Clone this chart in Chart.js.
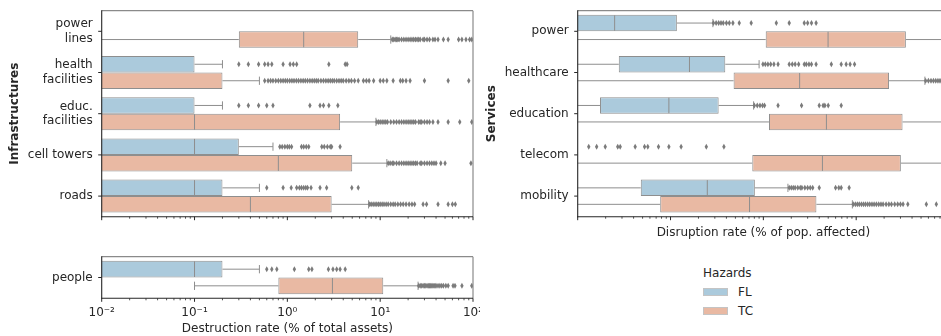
<!DOCTYPE html>
<html>
<head>
<meta charset="utf-8">
<script src="https://cdn.jsdelivr.net/npm/chart.js@4.4.1/dist/chart.umd.min.js"></script>
<style>
  html, body { margin: 0; padding: 0; background: #fff; }
  body { width: 941px; height: 336px; overflow: hidden; position: relative; font-family: "DejaVu Sans", sans-serif; color: #262626; }
  .panel { position: absolute; }
  .lg { position: absolute; font-size: 12px; line-height: 14px; white-space: nowrap; }
  .sw { position: absolute; width: 25px; height: 8px; box-sizing: border-box; border: 1px solid #c4c4c4; }
</style>
</head>
<body>
<div class="panel" style="left:0;top:0;"><canvas id="infra" width="480" height="226"></canvas></div>
<div class="panel" style="left:0;top:226px;"><canvas id="people" width="480" height="110"></canvas></div>
<div class="panel" style="left:480px;top:0;"><canvas id="services" width="480" height="240"></canvas></div>

<div class="lg" style="left:703px;top:266px;">Hazards</div>
<div class="sw" id="swFL" style="left:703px;top:288px;"></div>
<div class="lg" style="left:738px;top:285px;">FL</div>
<div class="sw" id="swTC" style="left:703px;top:307px;"></div>
<div class="lg" style="left:738px;top:304px;">TC</div>

<script>
// ---- shared axis settings ----
const hazards = ['FL', 'TC'];
const majorTicks = [0.01, 0.1, 1, 10, 100];
const majorTickLabels = ['10⁻²', '10⁻¹', '10⁰', '10¹', '10²'];

// Box statistics per category: [low whisker, Q1, median, Q3, high whisker].
// 0.001 stands for values that sit below the axis floor (zero damage).
const infraCategories = [['power', 'lines'], ['health', 'facilities'], ['educ.', 'facilities'], 'cell towers', 'roads'];
const infraFL = [
  null,
  [0.001, 0.001, 0.001, 0.1, 0.2],
  [0.001, 0.001, 0.001, 0.1, 0.2],
  [0.001, 0.001, 0.1, 0.3, 0.7],
  [0.001, 0.001, 0.1, 0.2, 0.5]
];
const infraTC = [
  [0.001, 0.3, 1.5, 5.8, 13],
  [0.001, 0.001, 0.001, 0.2, 0.5],
  [0.001, 0.001, 0.1, 3.7, 9],
  [0.001, 0.001, 0.8, 5, 11.8],
  [0.001, 0.001, 0.4, 3, 7.5]
];
const infraFLOutliers = [
  [],
  [0.3, 0.38, 0.49, 0.57, 0.62, 0.68, 0.9, 1.07, 1.16, 1.26, 2.8, 4.2, 4.4],
  [0.3, 0.38, 0.49, 0.6, 0.7, 1.75, 2.25, 2.45, 2.8, 3.5],
  [0.83, 0.88, 0.94, 1.0, 1.05, 1.11, 1.42, 1.5, 1.6, 1.7, 2.35, 2.5, 2.7, 2.9, 3.0, 3.7],
  [0.6, 0.9, 1.1, 1.26, 1.35, 1.42, 1.5, 1.58, 1.65, 1.8, 2.25, 2.65, 4.95, 5.8]
];
const infraTCOutliers = [
  [13.5, 14, 14.5, 15, 15.5, 16, 17, 18, 19, 20, 21, 22, 23, 24, 25, 26, 27, 29, 30, 32, 34, 37, 39, 42, 48, 54, 70, 76, 84, 92, 97],
  [0.57, 0.62, 0.66, 0.7, 0.75, 0.8, 0.85, 0.9, 0.95, 1.0, 1.06, 1.12, 1.18, 1.25, 1.32, 1.4, 1.48, 1.56, 1.65, 1.75, 1.85, 1.95,
   2.05, 2.15, 2.3, 2.45, 2.6, 2.75, 2.9, 3.05, 3.2, 3.4, 3.6, 3.8, 4.0, 4.3, 4.6, 4.9, 5.3, 5.8, 6.6, 7.1, 7.6, 8.5, 10, 10.8, 11.8,
   13.8, 16.5, 17.5, 19, 21, 30, 54, 90],
  [9.2, 9.6, 10, 10.5, 11, 11.5, 12, 13, 14, 15, 16, 17, 18, 19, 20, 21, 22, 23, 24, 26, 27, 28, 30, 32, 34, 37, 42, 54, 72, 97],
  [12.2, 12.8, 13.5, 14, 15, 16, 17, 18, 19, 20, 21, 22, 23, 24, 25, 27, 28, 30, 32, 34, 36, 38, 40, 45, 50, 95],
  [7.7, 8, 8.4, 8.8, 9.2, 9.6, 10, 10.5, 11, 11.6, 12.2, 13, 13.8, 14.5, 15.5, 16.6, 17.7, 19, 20.5, 22, 23.5, 29, 31.6, 42, 54, 60, 64.5]
];

const peopleCategories = ['people'];
const peopleFL = [[0.001, 0.001, 0.1, 0.2, 0.5]];
const peopleTC = [[0.1, 0.8, 3.06, 10.8, 25.6]];
const peopleFLOutliers = [[0.6, 0.68, 0.77, 1.19, 1.7, 1.84, 2.77, 3.1, 3.4, 3.7, 4.2]];
const peopleTCOutliers = [[26, 27, 28, 29, 30, 31, 32, 33, 34, 35, 36, 37, 38, 39, 40, 42, 44, 46, 48, 51, 54, 61, 64, 76, 97]];

const serviceCategories = ['power', 'healthcare', 'education', 'telecom', 'mobility'];
const serviceFL = [
  [0.001, 0.001, 0.025, 0.117, 0.286],
  [0.001, 0.0277, 0.16, 0.389, 0.9],
  [0.001, 0.0174, 0.096, 0.33, 0.785],
  null,
  [0.001, 0.0478, 0.249, 0.81, 1.84]
];
const serviceTC = [
  [0.001, 1.06, 4.98, 34.3, 120],
  [0.001, 0.478, 2.46, 22.6, 55],
  [0.001, 1.15, 4.78, 31.6, 85],
  [0.001, 0.76, 4.33, 30.3, 85],
  [0.001, 0.0774, 0.71, 3.73, 9.1]
];
const serviceFLOutliers = [
  [0.29, 0.31, 0.33, 0.35, 0.37, 0.4, 0.43, 0.47, 0.55, 0.74, 1.38, 1.9, 2.76, 3.0, 3.3, 3.7],
  [0.99, 1.05, 1.12, 1.2, 1.3, 1.44, 1.9, 2.05, 2.2, 2.4, 2.76, 2.9, 3.1, 3.3, 3.7, 5.4, 6.9, 7.8, 8.6, 9.6],
  [0.8, 0.86, 0.92, 0.98, 1.03, 1.44, 2.58, 4.0, 4.4, 4.6, 5.0, 6.9],
  [0.01315, 0.016, 0.0198, 0.027, 0.0287, 0.0416, 0.0525, 0.0569, 0.0742, 0.096, 0.13, 0.243, 0.376],
  [1.9, 2.0, 2.1, 2.2, 2.35, 2.5, 2.6, 2.8, 3.0, 3.2, 3.4, 4.0, 6.0, 6.5, 6.9, 8.4]
];
const serviceTCOutliers = [
  [],
  [56, 60, 64, 68, 72, 76, 80, 85, 90],
  [90, 93],
  [90, 95],
  [9.3, 9.8, 10.3, 10.8, 11.4, 12, 12.6, 13.3, 14, 14.8, 15.6, 16.5, 17.5, 18.5, 19.5, 21, 22.5, 24, 26, 28, 30, 32, 36, 57, 73]
];

// ---- styling ----
const FL_COLOR = '#abcadc';
const TC_COLOR = '#e9b9a3';
const EDGE = '#8e8e8e';
const FLIER = '#7b7b7b';
const INK = '#262626';
document.getElementById('swFL').style.background = FL_COLOR;
document.getElementById('swTC').style.background = TC_COLOR;

Chart.defaults.font.family = '"DejaVu Sans", sans-serif';
Chart.defaults.font.size = 12;
Chart.defaults.color = INK;

function seg(ctx, x1, y1, x2, y2) {
  ctx.beginPath(); ctx.moveTo(x1, y1); ctx.lineTo(x2, y2); ctx.stroke();
}

// Whiskers, caps, medians and outlier diamonds on top of the floating-bar boxes,
// plus the axis frame and log tick marks.
const boxDecor = {
  id: 'boxDecor',
  afterDatasetsDraw(chart, args, opts) {
    const { ctx, chartArea: a, scales: { x, y } } = chart;
    const n = chart.data.labels.length;
    const catH = y.height / n;
    const boxH = catH * 0.4;
    ctx.save();
    ctx.beginPath(); ctx.rect(a.left, a.top - 1, a.right - a.left, a.bottom - a.top + 2); ctx.clip();
    ctx.lineWidth = 1;
    opts.stats.forEach((series, d) => {
      series.forEach((s, i) => {
        const cy = y.getPixelForValue(i) + (d === 0 ? -boxH / 2 : boxH / 2);
        if (s) {
          const [lo, q1, med, q3, hi] = s.map(v => x.getPixelForValue(v));
          ctx.strokeStyle = EDGE;
          seg(ctx, lo, cy, q1, cy);
          seg(ctx, q3, cy, hi, cy);
          seg(ctx, lo, cy - boxH / 4, lo, cy + boxH / 4);
          seg(ctx, hi, cy - boxH / 4, hi, cy + boxH / 4);
          seg(ctx, med, cy - boxH / 2 + 0.5, med, cy + boxH / 2 - 0.5);
        }
        ctx.fillStyle = FLIER;
        opts.fliers[d][i].forEach(v => {
          const px = x.getPixelForValue(v);
          ctx.beginPath();
          ctx.moveTo(px, cy - 3);
          ctx.lineTo(px + 1.7, cy);
          ctx.lineTo(px, cy + 3);
          ctx.lineTo(px - 1.7, cy);
          ctx.closePath();
          ctx.fill();
        });
      });
    });
    ctx.restore();
  },
  afterDraw(chart) {
    const { ctx, chartArea: a, scales: { x, y } } = chart;
    ctx.save();
    // top / right spines
    ctx.strokeStyle = '#8a8a8a';
    ctx.lineWidth = 1.2;
    seg(ctx, a.left, a.top, a.right, a.top);
    seg(ctx, a.right, a.top, a.right, a.bottom);
    // left / bottom spines
    ctx.strokeStyle = INK;
    ctx.lineWidth = 1.1;
    seg(ctx, a.left, a.top - 0.5, a.left, a.bottom + 0.5);
    seg(ctx, a.left - 0.5, a.bottom, a.right, a.bottom);
    // category ticks
    ctx.lineWidth = 1;
    chart.data.labels.forEach((_, i) => {
      const py = y.getPixelForValue(i);
      seg(ctx, a.left - 3.5, py, a.left, py);
    });
    // log ticks: major at decades, minor at 2..9 within each decade
    majorTicks.forEach((dec, k) => {
      const px = x.getPixelForValue(dec);
      ctx.lineWidth = 1;
      seg(ctx, px, a.bottom, px, a.bottom + 3.5);
      if (k < majorTicks.length - 1) {
        ctx.lineWidth = 0.8;
        for (let m = 2; m <= 9; m++) {
          const mx = x.getPixelForValue(dec * m);
          seg(ctx, mx, a.bottom, mx, a.bottom + 2);
        }
      }
    });
    ctx.restore();
  }
};

function boxChart(id, cfg) {
  const boxes = s => s ? [s[1], s[3]] : null;
  return new Chart(document.getElementById(id), {
    type: 'bar',
    data: {
      labels: cfg.labels,
      datasets: [
        { label: hazards[0], data: cfg.fl.map(boxes), backgroundColor: FL_COLOR },
        { label: hazards[1], data: cfg.tc.map(boxes), backgroundColor: TC_COLOR }
      ]
    },
    plugins: [boxDecor],
    options: {
      responsive: false,
      animation: false,
      indexAxis: 'y',
      datasets: {
        bar: {
          categoryPercentage: 0.8,
          barPercentage: 1.0,
          borderColor: EDGE,
          borderWidth: 1,
          borderSkipped: false
        }
      },
      layout: { autoPadding: false, padding: cfg.padding },
      plugins: {
        legend: { display: false },
        tooltip: { enabled: false },
        boxDecor: { stats: [cfg.fl, cfg.tc], fliers: [cfg.flOut, cfg.tcOut] }
      },
      scales: {
        x: {
          type: 'logarithmic',
          min: 0.01,
          max: 100,
          grid: { display: false, drawTicks: false },
          border: { display: false },
          afterBuildTicks: scale => { scale.ticks = majorTicks.map(v => ({ value: v, major: true })); },
          afterFit: scale => {
            scale.height = cfg.xHeight;
            scale.paddingLeft = 0;
            scale.paddingRight = 0;
          },
          ticks: {
            display: cfg.xLabels,
            padding: 7,
            autoSkip: false,
            maxRotation: 0,
            color: INK,
            callback: (v, i) => majorTickLabels[i]
          },
          title: {
            display: !!cfg.xTitle,
            text: cfg.xTitle || '',
            color: INK,
            padding: { top: 0, bottom: 0 }
          }
        },
        y: {
          type: 'category',
          grid: { display: false, drawTicks: false },
          border: { display: false },
          afterFit: scale => {
            scale.width = cfg.yWidth;
            scale.paddingTop = 0;
            scale.paddingBottom = 0;
          },
          ticks: { padding: 9, color: INK, autoSkip: false },
          title: {
            display: !!cfg.yTitle,
            text: cfg.yTitle || '',
            color: INK,
            font: { weight: 'bold', size: 12 },
            padding: { top: cfg.yTitlePad || 4, bottom: 0 }
          }
        }
      }
    }
  });
}

boxChart('infra', {
  labels: infraCategories, fl: infraFL, tc: infraTC,
  flOut: infraFLOutliers, tcOut: infraTCOutliers,
  padding: { top: 10.7, right: 7, bottom: 0, left: 0 },
  yWidth: 101.7, xHeight: 226 - 216.7, xLabels: false,
  yTitle: 'Infrastructures', yTitlePad: 8
});

boxChart('people', {
  labels: peopleCategories, fl: peopleFL, tc: peopleTC,
  flOut: peopleFLOutliers, tcOut: peopleTCOutliers,
  padding: { top: 30.7, right: 7, bottom: 0, left: 0 },
  yWidth: 101.7, xHeight: 110 - 72.3, xLabels: true,
  xTitle: 'Destruction rate (% of total assets)'
});

boxChart('services', {
  labels: serviceCategories, fl: serviceFL, tc: serviceTC,
  flOut: serviceFLOutliers, tcOut: serviceTCOutliers,
  padding: { top: 10.7, right: 11, bottom: 0, left: 0 },
  yWidth: 97.7, xHeight: 240 - 216.7, xLabels: false,
  xTitle: 'Disruption rate (% of pop. affected)',
  yTitle: 'Services', yTitlePad: 5
});
</script>
</body>
</html>
